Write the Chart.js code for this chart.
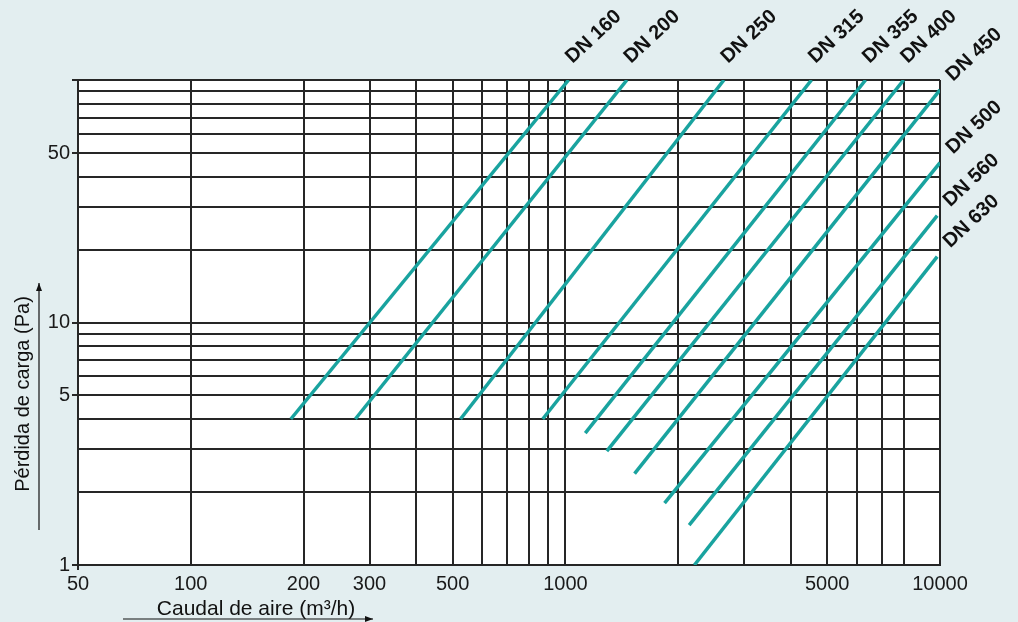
<!DOCTYPE html>
<html>
<head>
<meta charset="utf-8">
<script src="https://cdn.jsdelivr.net/npm/chart.js@4.4.1/dist/chart.umd.min.js"></script>
<style>
  html, body { margin: 0; padding: 0; background: #e3eef0; }
  #wrap { width: 1018px; height: 622px; position: relative; }
</style>
</head>
<body>
<div id="wrap"><canvas id="chart"></canvas></div>
<script>
// duct sizes and the two ends of each pressure-loss line (flow m3/h, loss Pa)
const sizes = ['DN 160', 'DN 200', 'DN 250', 'DN 315', 'DN 355', 'DN 400', 'DN 450', 'DN 500', 'DN 560', 'DN 630'];
const flowStart = [185, 275, 525, 870, 1130, 1290, 1530, 1840, 2140, 2210];
const lossStart = [4, 4, 4, 4, 3.5, 2.95, 2.38, 1.8, 1.46, 1];
const flowEnd = [1020, 1460, 2650, 4540, 6330, 8000, 10000, 10000, 9830, 9830];
const lossEnd = [100, 100, 100, 100, 100, 100, 91, 45.6, 27.6, 18.7];

const xGrid = [50, 100, 200, 300, 400, 500, 600, 700, 800, 900, 1000, 2000, 3000, 4000, 5000, 6000, 7000, 8000, 10000];
const xLabels = [50, 100, 200, 300, 500, 1000, 5000, 10000];
const yGrid = [1, 2, 3, 4, 5, 6, 7, 8, 9, 10, 20, 30, 40, 50, 60, 70, 80, 90, 100];
const yLabels = [1, 5, 10, 50];

const teal = '#19a39f';
const ink = '#262626';
const font = '"Liberation Sans", Arial, sans-serif';

const datasets = sizes.map((label, i) => ({
  label,
  data: [{ x: flowStart[i], y: lossStart[i] }, { x: flowEnd[i], y: lossEnd[i] }],
  showLine: true,
  borderColor: teal,
  borderWidth: 3.5,
  borderCapStyle: 'butt',
  pointRadius: 0,
  clip: 0
}));

const plotBg = {
  id: 'plotBg',
  beforeDraw(chart) {
    const { ctx, chartArea: a } = chart;
    ctx.save();
    ctx.fillStyle = '#fff';
    ctx.fillRect(a.left, a.top, a.right - a.left, a.bottom - a.top);
    ctx.restore();
  }
};

function arrow(ctx, x1, y1, x2, y2) {
  const ang = Math.atan2(y2 - y1, x2 - x1);
  ctx.beginPath();
  ctx.moveTo(x1, y1);
  ctx.lineTo(x2, y2);
  ctx.stroke();
  ctx.beginPath();
  ctx.moveTo(x2, y2);
  ctx.lineTo(x2 - 8 * Math.cos(ang) + 3 * Math.sin(ang), y2 - 8 * Math.sin(ang) - 3 * Math.cos(ang));
  ctx.lineTo(x2 - 8 * Math.cos(ang) - 3 * Math.sin(ang), y2 - 8 * Math.sin(ang) + 3 * Math.cos(ang));
  ctx.closePath();
  ctx.fill();
}

const decor = {
  id: 'decor',
  afterDraw(chart) {
    const { ctx, chartArea: a } = chart;
    ctx.save();
    ctx.fillStyle = '#111';
    ctx.strokeStyle = '#111';
    ctx.lineWidth = 1.2;

    // axis titles with their arrows
    ctx.font = '21px ' + font;
    ctx.textAlign = 'center';
    ctx.textBaseline = 'alphabetic';
    ctx.fillText('Caudal de aire (m³/h)', a.left + 178, a.bottom + 50);
    arrow(ctx, a.left + 45, a.bottom + 54, a.left + 295, a.bottom + 54);

    ctx.save();
    ctx.translate(23, a.top + 314);
    ctx.rotate(-Math.PI / 2);
    ctx.textBaseline = 'middle';
    ctx.font = '20px ' + font;
    ctx.fillText('Pérdida de carga (Pa)', 0, 0);
    ctx.restore();
    arrow(ctx, 39, a.top + 450, 39, a.top + 203);

    // size labels next to the end of each line
    ctx.font = 'bold 20px ' + font;
    ctx.textAlign = 'left';
    chart.data.datasets.forEach((ds, i) => {
      const end = chart.getDatasetMeta(i).data[1];
      let x, y;
      if (lossEnd[i] >= 100) {
        x = end.x + 4;
        y = a.top - 16;
      } else {
        x = end.x + 13;
        y = end.y - 8;
      }
      ctx.save();
      ctx.translate(x, y);
      ctx.rotate(-43 * Math.PI / 180);
      ctx.fillText(ds.label, 0, 0);
      ctx.restore();
    });
    ctx.restore();
  }
};

new Chart(document.getElementById('chart'), {
  type: 'scatter',
  data: { datasets },
  options: {
    responsive: true,
    maintainAspectRatio: false,
    animation: false,
    layout: { padding: { top: 80, right: 78, left: 0, bottom: 0 } },
    plugins: { legend: { display: false }, tooltip: { enabled: false } },
    scales: {
      x: {
        type: 'logarithmic',
        min: 50,
        max: 10000,
        afterBuildTicks: (scale) => { scale.ticks = xGrid.map((v) => ({ value: v })); },
        afterFit: (scale) => { scale.height = 57; },
        border: { display: true, color: ink, width: 2 },
        grid: {
          color: ink,
          lineWidth: 2,
          drawTicks: true,
          tickLength: 5,
          tickWidth: 2,
          tickColor: (c) => (c.tick && c.tick.value === 50 ? ink : 'rgba(0,0,0,0)')
        },
        ticks: {
          autoSkip: false,
          maxRotation: 0,
          minRotation: 0,
          padding: 2,
          color: '#1a1a1a',
          font: { family: font, size: 20 },
          callback: (v) => (xLabels.includes(v) ? String(v) : '')
        }
      },
      y: {
        type: 'logarithmic',
        min: 1,
        max: 100,
        afterBuildTicks: (scale) => { scale.ticks = yGrid.map((v) => ({ value: v })); },
        afterFit: (scale) => { scale.width = 78; },
        border: { display: true, color: ink, width: 2 },
        grid: {
          color: ink,
          lineWidth: 2,
          drawTicks: true,
          tickLength: 6,
          tickWidth: 2,
          tickColor: (c) => (c.tick && (yLabels.includes(c.tick.value) || c.tick.value === 100) ? ink : 'rgba(0,0,0,0)')
        },
        ticks: {
          autoSkip: false,
          padding: 2,
          color: '#1a1a1a',
          font: { family: font, size: 20 },
          callback: (v) => (yLabels.includes(v) ? String(v) : '')
        }
      }
    }
  },
  plugins: [plotBg, decor]
});
</script>
</body>
</html>
